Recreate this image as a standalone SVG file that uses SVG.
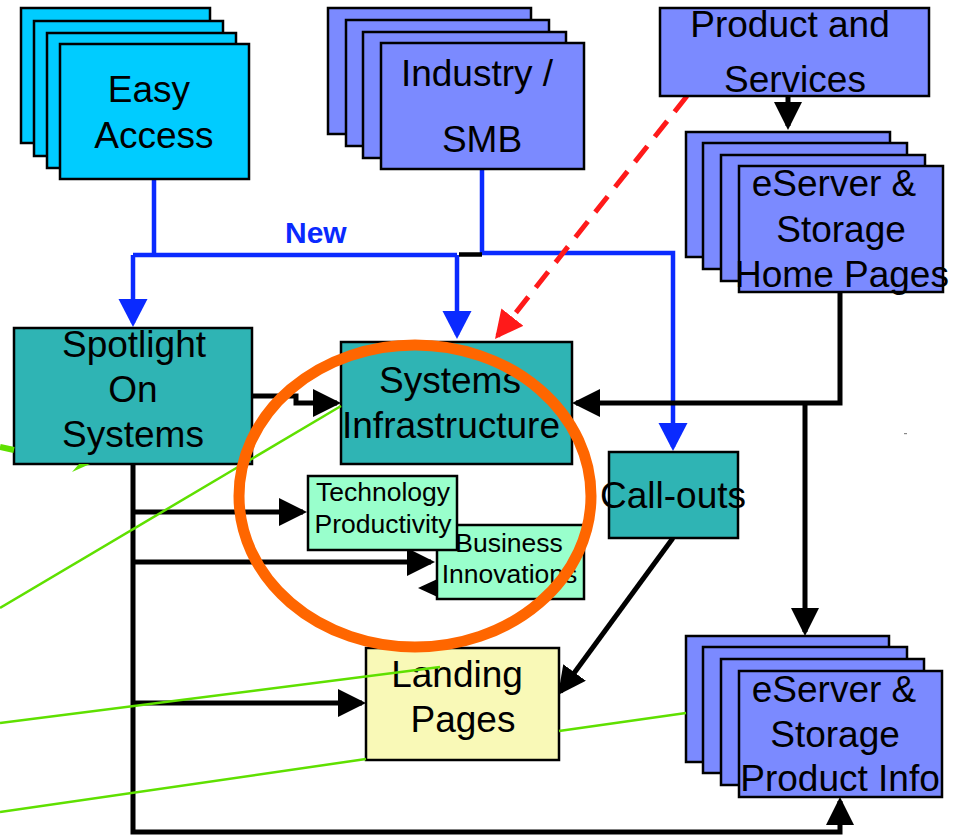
<svg xmlns="http://www.w3.org/2000/svg" width="956" height="835" viewBox="0 0 956 835">
<defs>
<style>
text{font-family:"Liberation Sans",Arial,sans-serif;fill:#000;text-anchor:middle}
.big{font-size:37px}
.small{font-size:26.5px}
.new{font-size:30px;font-weight:bold;fill:#0A2AFF;text-anchor:start}
.n{stroke:#000;stroke-width:2.5}
.cyan{fill:#00CCFF}
.blue{fill:#7B8AFF}
.teal{fill:#2FB4B4}
.mint{fill:#99FFCC}
.yellow{fill:#F9F9B7}
.bk{fill:none;stroke:#000;stroke-width:5}
.bl{fill:none;stroke:#0A2AFF;stroke-width:4.5}
.rd{fill:none;stroke:#FF1A1A;stroke-width:5;stroke-dasharray:20 12}
.gr{fill:none;stroke:#5FE000;stroke-width:2.5}
</style>
<marker id="ab" markerUnits="userSpaceOnUse" markerWidth="30" markerHeight="30" refX="24" refY="14" orient="auto"><path d="M0,0 L28,14 L0,28 z" fill="#000"/></marker>
<marker id="au" markerUnits="userSpaceOnUse" markerWidth="30" markerHeight="30" refX="24" refY="14.5" orient="auto"><path d="M0,0 L28,14.5 L0,29 z" fill="#0A2AFF"/></marker>
<marker id="ar" markerUnits="userSpaceOnUse" markerWidth="30" markerHeight="30" refX="24" refY="14" orient="auto"><path d="M0,0 L28,14 L0,28 z" fill="#FF1A1A"/></marker>
</defs>
<rect width="956" height="835" fill="#fff"/>

<g id="connectors">
<path class="bl" d="M154,180 V255 M133,255 H457"/>
<path class="bl" d="M133,255 V323" marker-end="url(#au)"/>
<path class="bl" d="M457,255 V335" marker-end="url(#au)"/>
<path class="bl" d="M482,169 V253 H673 V447" marker-end="url(#au)"/>
<path d="M459,254.5 H482" stroke="#000" stroke-width="4.5"/>
<path class="rd" d="M687,96 L497.5,335.9" marker-end="url(#ar)"/>
<path class="bk" d="M788,96 V126" marker-end="url(#ab)"/>
<path class="bk" d="M252,396 H296 V403 H337" marker-end="url(#ab)"/>
<path class="bk" d="M133,464 V832 H840 V801" marker-end="url(#ab)"/>
<path class="bk" d="M133,512 H303" marker-end="url(#ab)"/>
<path class="bk" d="M133,562 H431" marker-end="url(#ab)"/>
<path class="bk" d="M133,703 H362" marker-end="url(#ab)"/>
<path class="bk" d="M673,538 L560.4,691.8" marker-end="url(#ab)"/>
<path class="bk" d="M840,292 V403 H576" marker-end="url(#ab)"/>
<path class="bk" d="M805,403 V632" marker-end="url(#ab)"/>
<polygon points="418,588 444,576 444,600" fill="#000"/>
<text class="new" x="285" y="243">New</text>
</g>

<g id="easy-access">
<rect class="n cyan" x="21" y="8" width="189" height="135"/>
<rect class="n cyan" x="34" y="21" width="189" height="135"/>
<rect class="n cyan" x="47" y="33" width="189" height="135"/>
<rect class="n cyan" x="60" y="44" width="189" height="135"/>
<text class="big" x="149" y="102">Easy</text>
<text class="big" x="154" y="148">Access</text>
</g>

<g id="industry-smb">
<rect class="n blue" x="328" y="8" width="203" height="126"/>
<rect class="n blue" x="346" y="20" width="203" height="126"/>
<rect class="n blue" x="363" y="32" width="203" height="126"/>
<rect class="n blue" x="381" y="43" width="203" height="126"/>
<text class="big" x="477" y="86">Industry /</text>
<text class="big" x="482" y="152">SMB</text>
</g>

<g id="product-services">
<rect class="n blue" x="660" y="8" width="269" height="88"/>
<text class="big" x="790" y="37">Product and</text>
<text class="big" x="795" y="92">Services</text>
</g>

<g id="eserver-home">
<rect class="n blue" x="686" y="132" width="204" height="125"/>
<rect class="n blue" x="703" y="143" width="204" height="126"/>
<rect class="n blue" x="721" y="155" width="204" height="126"/>
<rect class="n blue" x="739" y="166" width="204" height="126"/>
<text class="big" x="834" y="196">eServer &amp;</text>
<text class="big" x="841" y="242">Storage</text>
<text class="big" x="842" y="287">Home Pages</text>
</g>

<g id="spotlight">
<rect class="n teal" x="14" y="328" width="238" height="136"/>
<text class="big" x="134" y="357">Spotlight</text>
<text class="big" x="133" y="402">On</text>
<text class="big" x="133" y="447">Systems</text>
</g>

<g id="systems-infrastructure">
<rect class="n teal" x="341" y="342" width="231" height="122"/>
<text class="big" x="450" y="393">Systems</text>
<text class="big" x="451" y="438">Infrastructure</text>
</g>

<g id="business-innovations">
<rect class="n mint" x="437" y="525" width="147" height="74"/>
<text class="small" x="509" y="552">Business</text>
<text class="small" x="509.5" y="583">Innovations</text>
</g>

<g id="technology-productivity">
<rect class="n mint" x="308" y="476" width="149" height="74"/>
<text class="small" x="383" y="501">Technology</text>
<text class="small" x="383" y="533">Productivity</text>
</g>

<g id="call-outs">
<rect class="n teal" x="609" y="452" width="129" height="86"/>
<text class="big" x="673" y="508">Call-outs</text>
</g>

<g id="landing-pages">
<rect class="n yellow" x="366" y="648" width="193" height="112"/>
<text class="big" x="457" y="687">Landing</text>
<text class="big" x="463" y="732">Pages</text>
</g>

<g id="eserver-product">
<rect class="n blue" x="686" y="636" width="203" height="126"/>
<rect class="n blue" x="703" y="647" width="204" height="126"/>
<rect class="n blue" x="721" y="659" width="203" height="126"/>
<rect class="n blue" x="739" y="671" width="203" height="126"/>
<text class="big" x="834" y="702">eServer &amp;</text>
<text class="big" x="835" y="747">Storage</text>
<text class="big" x="840" y="791">Product Info</text>
</g>

<g id="annotations">
<path class="gr" d="M0,608 L341,406"/>
<path d="M0,447 L14,450" stroke="#5FE000" stroke-width="6"/>
<polygon points="72,472 90,464 79,464" fill="#5FE000"/>
<path class="gr" d="M0,723 L440,667"/>
<path class="gr" d="M0,812 L366,759 M559,731 L686,713"/>
<rect x="904" y="433" width="3" height="1.2" fill="#888"/>
<ellipse cx="415" cy="496" rx="176" ry="151" fill="none" stroke="#FF6600" stroke-width="11"/>
</g>
</svg>
